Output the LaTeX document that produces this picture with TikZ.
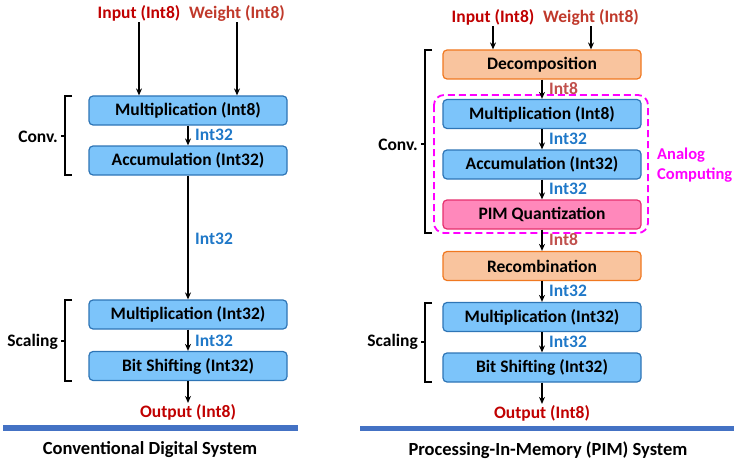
\documentclass[tikz,border=0pt]{standalone}
\usepackage{fontspec}
\setmainfont{Carlito}
\usetikzlibrary{arrows.meta}
\definecolor{bfill}{HTML}{7CC4FA}
\definecolor{bline}{HTML}{2E75B6}
\definecolor{ofill}{HTML}{F9C49E}
\definecolor{oline}{HTML}{F07820}
\definecolor{pfill}{HTML}{FF88BB}
\definecolor{pline}{HTML}{E5306E}
\definecolor{redA}{HTML}{C00000}
\definecolor{redB}{HTML}{C0392B}
\definecolor{redC}{HTML}{C0504D}
\definecolor{intblue}{HTML}{1F78C8}
\definecolor{barblue}{HTML}{4472C4}
\definecolor{mag}{HTML}{FF00FF}
\tikzset{
  txt/.style={font=\bfseries\fontsize{17.5}{19}\selectfont, inner sep=1},
  bx/.style={txt, draw=bline, fill=bfill, rounded corners=4, minimum width=198, minimum height=29, line width=1.2, inner sep=0},
  obx/.style={bx, draw=oline, fill=ofill},
  pbx/.style={bx, draw=pline, fill=pfill},
  arr/.style={-{Stealth[length=7,width=6]}, line width=1.4, black},
  brk/.style={line width=1.2, black},
  lbl32/.style={txt, text=intblue, anchor=west},
  lbl8/.style={txt, text=redC, anchor=west},
  ttl/.style={font=\bfseries\fontsize{18.5}{21}\selectfont, inner sep=0},
}
\begin{document}
\begin{tikzpicture}[x=1pt,y=-1pt]
\useasboundingbox (0,0) rectangle (734,460);
% ---------- left: conventional ----------
\node[txt, text=redA] (inL) at (139,13) {Input (Int8)};
\node[txt, text=redB] (wL) at (237,13) {Weight (Int8)};
\node[bx] (m8L) at (188,110.5) {Multiplication (Int8)};
\node[bx] (accL) at (188,160.5) {Accumulation (Int32)};
\node[bx] (m32L) at (188,314.5) {Multiplication (Int32)};
\node[bx] (bsL) at (188,366) {Bit Shifting (Int32)};
\node[txt, text=redA] (outL) at (188,412) {Output (Int8)};
\draw[arr] (inL.south) -- (inL.south |- m8L.north);
\draw[arr] (wL.south) -- (wL.south |- m8L.north);
\draw[arr] (m8L) -- (accL);
\draw[arr] (accL) -- (m32L);
\draw[arr] (m32L) -- (bsL);
\draw[arr] (bsL.south) -- (outL.north);
\node[lbl32] (l1) at (194,135) {Int32};
\node[lbl32] (l2) at (194,239) {Int32};
\node[lbl32] (l3) at (194,341) {Int32};
% brackets
\draw[brk] (72,96) -- (65,96) -- (65,175) -- (72,175);
\draw[brk] (65,136) -- (61,136);
\node[txt, anchor=east] (convL) at (59,137) {Conv.};
\draw[brk] (72,300) -- (65,300) -- (65,381) -- (72,381);
\draw[brk] (65,341) -- (61,341);
\node[txt, anchor=east] (scL) at (59,342) {Scaling};
\fill[barblue] (3,425) rectangle (298,431);
\node[ttl] (tL) at (150,450) {Conventional Digital System};
% ---------- right: PIM ----------
\draw[mag, line width=1.8, dash pattern=on 7 off 4, rounded corners=10] (434,95) rectangle (648,233);
\node[txt, text=redA] (inR) at (493,17) {Input (Int8)};
\node[txt, text=redB] (wR) at (591,17) {Weight (Int8)};
\node[obx] (dec) at (542,64.5) {Decomposition};
\node[bx] (m8R) at (542,114) {Multiplication (Int8)};
\node[bx] (accR) at (542,164.5) {Accumulation (Int32)};
\node[pbx] (pim) at (542,214.5) {PIM Quantization};
\node[obx] (rec) at (542,266) {Recombination};
\node[bx] (m32R) at (542,317) {Multiplication (Int32)};
\node[bx] (bsR) at (542,367.5) {Bit Shifting (Int32)};
\node[txt, text=redA] (outR) at (542,413) {Output (Int8)};
\draw[arr] (inR.south) -- (inR.south |- dec.north);
\draw[arr] (wR.south) -- (wR.south |- dec.north);
\draw[arr] (dec) -- (m8R);
\draw[arr] (m8R) -- (accR);
\draw[arr] (accR) -- (pim);
\draw[arr] (pim) -- (rec);
\draw[arr] (rec) -- (m32R);
\draw[arr] (m32R) -- (bsR);
\draw[arr] (bsR.south) -- (outR.north);
\node[lbl8] (r1) at (548,89) {Int8};
\node[lbl32] (r2) at (548,139) {Int32};
\node[lbl32] (r3) at (548,189) {Int32};
\node[lbl8] (r4) at (548,240) {Int8};
\node[lbl32] (r5) at (548,291) {Int32};
\node[lbl32] (r6) at (548,342) {Int32};
\node[txt, text=mag, anchor=west, align=left, font=\bfseries\fontsize{16.5}{20}\selectfont] (ana) at (656,165) {Analog\\Computing};
\draw[brk] (432,50) -- (425,50) -- (425,233) -- (432,233);
\draw[brk] (425,144) -- (421,144);
\node[txt, anchor=east] (convR) at (419,145) {Conv.};
\draw[brk] (432,303) -- (425,303) -- (425,382) -- (432,382);
\draw[brk] (425,342) -- (421,342);
\node[txt, anchor=east] (scR) at (419,342) {Scaling};
\fill[barblue] (360,426) rectangle (734,431);
\node[ttl] (tR) at (548,450) {Processing-In-Memory (PIM) System};
\end{tikzpicture}
\end{document}
